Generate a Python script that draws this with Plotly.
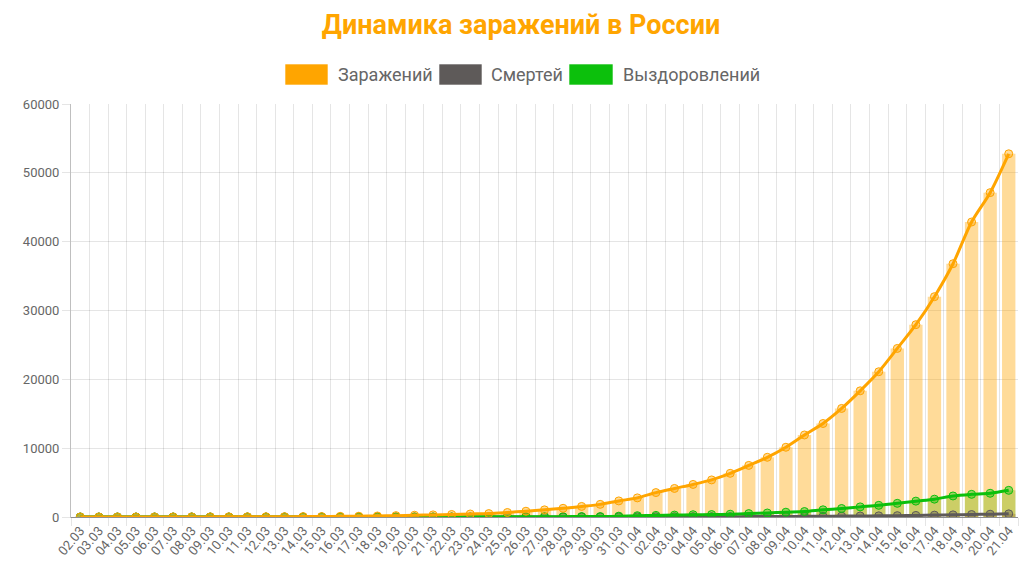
import plotly.graph_objects as go

dates = ["02.03","03.03","04.03","05.03","06.03","07.03","08.03","09.03","10.03","11.03",
         "12.03","13.03","14.03","15.03","16.03","17.03","18.03","19.03","20.03","21.03",
         "22.03","23.03","24.03","25.03","26.03","27.03","28.03","29.03","30.03","31.03",
         "01.04","02.04","03.04","04.04","05.04","06.04","07.04","08.04","09.04","10.04",
         "11.04","12.04","13.04","14.04","15.04","16.04","17.04","18.04","19.04","20.04","21.04"]

infected = [3,3,3,4,4,10,14,17,20,28,
            34,45,59,63,93,114,147,199,253,306,
            367,438,495,658,840,1036,1264,1534,1836,2337,
            2777,3548,4149,4731,5389,6343,7497,8672,10131,11917,
            13584,15770,18328,21102,24490,27938,32008,36793,42853,47121,52763]

deaths = [0,0,0,0,0,0,0,0,0,0,
          0,0,0,0,0,0,0,1,1,1,
          1,1,1,3,3,4,4,8,9,17,
          24,30,34,43,45,47,58,63,76,94,
          106,130,148,170,198,232,273,313,361,405,456]

recovered = [2,2,2,2,2,2,2,2,2,2,
             2,2,2,3,3,5,8,9,12,12,
             16,17,22,29,38,45,49,64,66,121,
             190,235,281,333,355,406,494,580,698,795,
             1045,1237,1470,1694,1986,2304,2590,3057,3291,3446,3873]

series_names = ["Заражений", "Смертей", "Выздоровлений"]
colors = ["#FFA500", "#5E5A59", "#0CC00C"]
title_text = "Динамика заражений в России"

FONT = "Roboto"
fig = go.Figure()

# bars (drawn beneath lines)
fig.add_trace(go.Bar(x=dates, y=recovered, marker_color="rgba(12,192,12,0.35)",
                     marker_line_width=0, width=0.72, showlegend=False, hoverinfo="skip"))
fig.add_trace(go.Bar(x=dates, y=deaths, marker_color="rgba(94,90,89,0.4)",
                     marker_line_width=0, width=0.72, showlegend=False, hoverinfo="skip"))
fig.add_trace(go.Bar(x=dates, y=infected, marker_color="rgba(255,165,0,0.4)",
                     marker_line_width=0, width=0.72, showlegend=False, hoverinfo="skip"))

def line(y, c, rgba):
    return go.Scatter(x=dates, y=y, mode="lines+markers",
                      line=dict(color=c, width=3, shape="spline", smoothing=0.8),
                      marker=dict(size=8, color=rgba, line=dict(color=c, width=1)),
                      showlegend=False)

fig.add_trace(line(deaths, colors[1], "rgba(94,90,89,0.4)"))
fig.add_trace(line(recovered, colors[2], "rgba(12,192,12,0.4)"))
fig.add_trace(line(infected, colors[0], "rgba(255,165,0,0.4)"))

# manual legend
legend_items = [(285, 328, 336), (439, 482, 489), (569, 613, 621)]
shapes = []
annotations = []
W, H = 1031, 566
for (x0, x1, tx), name, c in zip(legend_items, series_names, colors):
    shapes.append(dict(type="rect", xref="paper", yref="paper",
                       x0=(x0 - 71) / (1018 - 71), x1=(x1 - 71) / (1018 - 71),
                       y0=(517 - 85) / (517 - 104), y1=(517 - 64) / (517 - 104),
                       fillcolor=c, line=dict(color="rgba(255,255,255,0.6)", width=1)))
    annotations.append(dict(text=name, xref="paper", yref="paper",
                            x=(tx - 71) / (1018 - 71), y=(517 - 74.5) / (517 - 104),
                            xanchor="left", yanchor="middle", showarrow=False,
                            font=dict(family=FONT, size=18, color="#666666")))

fig.update_layout(
    width=W, height=H,
    margin=dict(l=71, r=13, t=104, b=49),
    paper_bgcolor="white", plot_bgcolor="white",
    barmode="overlay",
    showlegend=False,
    title=dict(text="<b>" + title_text + "</b>", x=521 / W, xanchor="center",
               y=1 - 25 / H, yanchor="middle",
               font=dict(family=FONT, size=27, color="#FFA500")),
    shapes=shapes, annotations=annotations,
    font=dict(family=FONT, color="#666666"),
)
fig.update_xaxes(type="category", tickson="boundaries", ticks="outside", ticklen=8,
                 tickcolor="rgba(0,0,0,0.1)", showgrid=True, gridcolor="rgba(0,0,0,0.1)",
                 gridwidth=1, tickangle=-50, tickfont=dict(family=FONT, size=13, color="#666666"),
                 range=[-0.5, len(dates) - 0.5], showline=True, linecolor="rgba(0,0,0,0.25)",
                 mirror=False, automargin=False)
fig.update_yaxes(range=[0, 60000], tickvals=[0, 10000, 20000, 30000, 40000, 50000, 60000],
                 ticktext=["0", "10000", "20000", "30000", "40000", "50000", "60000"],
                 showgrid=True, gridcolor="rgba(0,0,0,0.1)", zeroline=True,
                 zerolinecolor="rgba(0,0,0,0.25)", zerolinewidth=1,
                 showline=True, linecolor="rgba(0,0,0,0.25)", ticks="outside", ticklen=8,
                 tickcolor="rgba(0,0,0,0.1)", tickfont=dict(family=FONT, size=13, color="#666666"),
                 automargin=False)

fig.write_html("out.html")
